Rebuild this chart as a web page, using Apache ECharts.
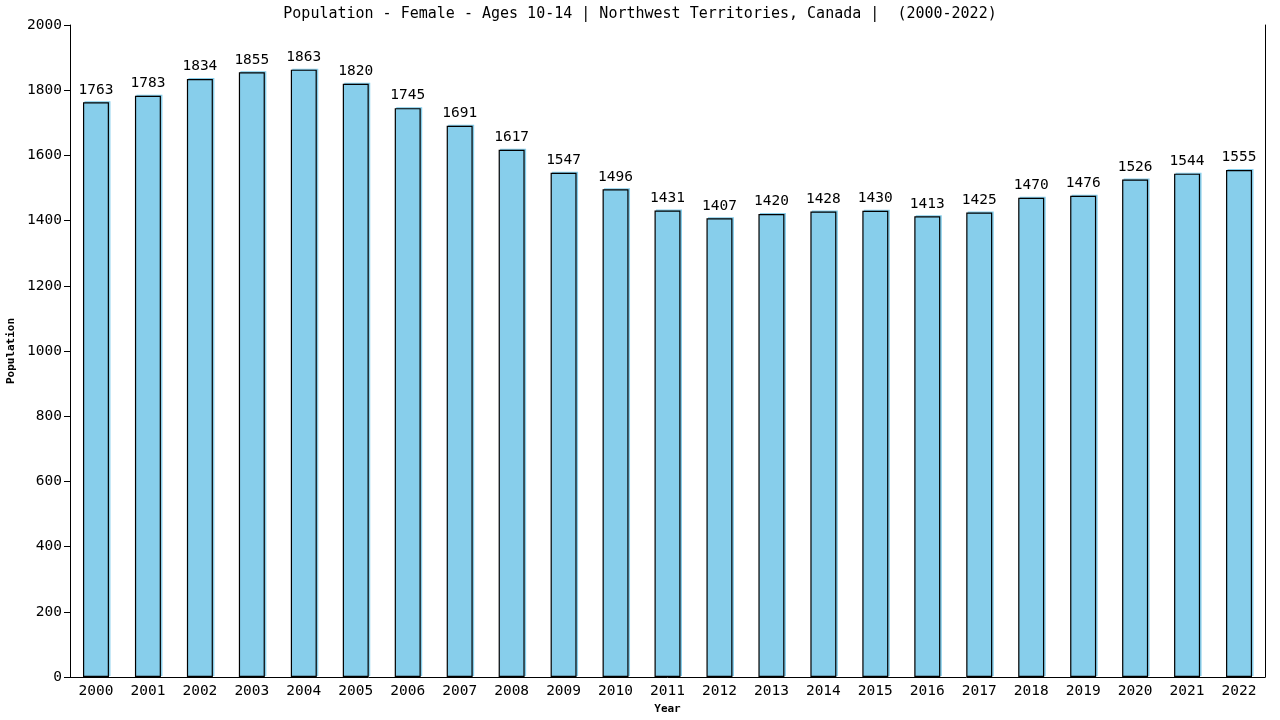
<!DOCTYPE html>
<html>
<head>
    <meta http-equiv="Content-type" content="text/html; charset=utf-8" />
    <title></title>
    <script src="https://cdn.jsdelivr.net/npm/echarts@6/dist/echarts.min.js"></script>
    <style>
    body { margin: 0; background: #fff; }
    #main { width: 1280px; height: 720px; }
    </style>
</head>
<body>
    <div id="main"></div>
    <script type="text/javascript">
        var titleText = 'Population - Female - Ages 10-14 | Northwest Territories, Canada |  (2000-2022)';
        var years = ['2000','2001','2002','2003','2004','2005','2006','2007','2008','2009','2010','2011',
                     '2012','2013','2014','2015','2016','2017','2018','2019','2020','2021','2022'];
        var population = [1763,1783,1834,1855,1863,1820,1745,1691,1617,1547,1496,1431,
                          1407,1420,1428,1430,1413,1425,1470,1476,1526,1544,1555];

        var font = 'DejaVu Sans Mono';
        var myChart = echarts.init(document.getElementById('main'));
        myChart.setOption({
            animation: false,
            title: {
                text: titleText,
                left: 'center',
                top: 2,
                textStyle: { fontFamily: font, fontSize: 15, fontWeight: 'normal', color: '#000' }
            },
            grid: { left: 70, right: 15, top: 25, bottom: 43, containLabel: false, outerBoundsMode: 'none' },
            xAxis: {
                type: 'category',
                data: years,
                name: 'Year',
                nameLocation: 'middle',
                nameGap: 26,
                nameTextStyle: { fontFamily: font, fontSize: 11, fontWeight: 'bold', color: '#000' },
                axisLine: { lineStyle: { color: '#000', width: 1 } },
                axisTick: { show: false },
                axisLabel: { fontFamily: font, fontSize: 14.5, color: '#000', margin: 7 }
            },
            yAxis: [{
                type: 'value',
                min: 0,
                max: 2000,
                interval: 200,
                name: 'Population',
                nameLocation: 'middle',
                nameGap: 52,
                nameTextStyle: { fontFamily: font, fontSize: 11, fontWeight: 'bold', color: '#000' },
                axisLine: { show: true, lineStyle: { color: '#000', width: 1 } },
                axisTick: { show: true, length: 6, lineStyle: { color: '#000' } },
                axisLabel: { fontFamily: font, fontSize: 14.5, color: '#000', margin: 8,
                             formatter: function (v) { return String(v); } },
                splitLine: { show: false }
            }, {
                type: 'value',
                position: 'right',
                min: 0,
                max: 2000,
                axisLine: { show: true, lineStyle: { color: '#000', width: 1 } },
                axisTick: { show: false },
                axisLabel: { show: false },
                splitLine: { show: false }
            }],
            series: [{
                type: 'bar',
                data: population,
                barWidth: '50%',
                itemStyle: {
                    color: '#87CEEB',
                    borderColor: '#000',
                    borderWidth: 1.2,
                    shadowColor: '#87CEEB',
                    shadowBlur: 0,
                    shadowOffsetX: 1.5,
                    shadowOffsetY: -1
                },
                label: {
                    show: true,
                    position: 'top',
                    distance: 5,
                    fontFamily: font,
                    fontSize: 14.5,
                    color: '#000'
                }
            }]
        });
    </script>
</body>
</html>
